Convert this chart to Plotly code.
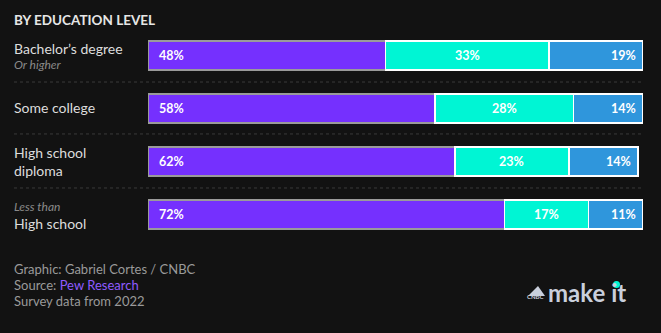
import plotly.graph_objects as go

categories = ["Bachelor’s degree", "Some college", "High school diploma", "Less than High school"]
purple_vals = [48, 58, 62, 72]
teal_vals = [33, 28, 23, 17]
blue_vals = [19, 14, 14, 11]

BG = "#121212"
PURPLE = "#7530FE"
TEAL = "#00F5D4"
BLUE = "#2F96DC"
FONT = "Lato"

W, H = 661, 333
L, R, T, B = 148, 18, 28, 91
PW, PH = W - L - R, H - T - B


def px2p(px):
    return (px - L) / PW


def py2p(py):
    return (T + PH - py) / PH


rows = list(range(len(categories)))
fig = go.Figure()
for vals, col, lc in [(purple_vals, PURPLE, "#9a9a9a"), (teal_vals, TEAL, "#ffffff"), (blue_vals, BLUE, "#ffffff")]:
    fig.add_trace(go.Bar(
        x=vals, y=rows, orientation="h", width=0.55,
        marker=dict(color=col, line=dict(color=lc, width=1.5)),
        hoverinfo="skip",
    ))

ann = []
for i in rows:
    p, t, b = purple_vals[i], teal_vals[i], blue_vals[i]
    ann.append(dict(x=0, y=i, xref="x", yref="y", text=f"<b>{p}%</b>", showarrow=False,
                    xanchor="left", xshift=9, font=dict(color="white", size=12.5, family=FONT)))
    ann.append(dict(x=p + t / 2, y=i, xref="x", yref="y", text=f"<b>{t}%</b>", showarrow=False,
                    xanchor="center", font=dict(color="white", size=12.5, family=FONT)))
    ann.append(dict(x=p + t + b, y=i, xref="x", yref="y", text=f"<b>{b}%</b>", showarrow=False,
                    xanchor="right", xshift=-5, font=dict(color="white", size=12.5, family=FONT)))

LX = 12
lab_font = dict(color="#dddddd", size=14, family=FONT)
sub_font = dict(color="#8a8a8a", size=12, family=FONT)
labels = [
    ("Bachelor’s degree", 48, lab_font),
    ("<i>Or higher</i>", 64, sub_font),
    ("Some college", 107, lab_font),
    ("High school", 152, lab_font),
    ("diploma", 170, lab_font),
    ("<i>Less than</i>", 206, sub_font),
    ("High school", 223, lab_font),
]
for txt, py, f in labels:
    ann.append(dict(x=px2p(LX), y=py2p(py), xref="paper", yref="paper", text=txt, showarrow=False,
                    xanchor="left", yanchor="middle", font=f))

ann.append(dict(x=px2p(LX), y=py2p(20), xref="paper", yref="paper", text="<b>BY EDUCATION LEVEL</b>",
                showarrow=False, xanchor="left", yanchor="middle",
                font=dict(color="#e6e6e6", size=13.5, family=FONT)))

foot = dict(color="#9a9a9a", size=13, family=FONT)
ann.append(dict(x=px2p(LX), y=py2p(269), xref="paper", yref="paper", text="Graphic: Gabriel Cortes / CNBC",
                showarrow=False, xanchor="left", yanchor="middle", font=foot))
ann.append(dict(x=px2p(LX), y=py2p(285), xref="paper", yref="paper",
                text="Source: <span style='color:#8F5BFF'>Pew Research</span>",
                showarrow=False, xanchor="left", yanchor="middle", font=foot))
ann.append(dict(x=px2p(LX), y=py2p(301), xref="paper", yref="paper", text="Survey data from 2022",
                showarrow=False, xanchor="left", yanchor="middle", font=foot))
ann.append(dict(x=px2p(546), y=py2p(292), xref="paper", yref="paper", text="<b>make it</b>",
                showarrow=False, xanchor="left", yanchor="middle",
                font=dict(color="#c9cfdc", size=24, family=FONT)))
ann.append(dict(x=px2p(546), y=py2p(296), xref="paper", yref="paper", text="<b>CNBC</b>",
                showarrow=False, xanchor="right", yanchor="middle",
                font=dict(color="#c9cfdc", size=6, family=FONT)))

shapes = []
for yv in [0.5, 1.48, 2.5]:
    shapes.append(dict(type="line", xref="paper", yref="y", x0=px2p(14), x1=1, y0=yv, y1=yv,
                       line=dict(color="#3a3a3a", width=1, dash="dot")))
# teal dot of the logo "i"
shapes.append(dict(type="circle", xref="paper", yref="paper",
                   x0=px2p(613), x1=px2p(620), y0=py2p(288), y1=py2p(281),
                   fillcolor=TEAL, line=dict(width=0)))
# peacock fan hint
shapes.append(dict(type="path", xref="paper", yref="paper",
                   path=f"M {px2p(528)},{py2p(296)} L {px2p(538)},{py2p(286)} L {px2p(545)},{py2p(296)} Z",
                   fillcolor="#c9cfdc", line=dict(width=0)))

fig.update_layout(
    width=W, height=H, barmode="stack", showlegend=False,
    paper_bgcolor=BG, plot_bgcolor=BG,
    margin=dict(l=L, r=R, t=T, b=B),
    xaxis=dict(range=[0, 100], visible=False, fixedrange=True),
    yaxis=dict(range=[3.52, -0.52], visible=False, fixedrange=True),
    annotations=ann, shapes=shapes,
    font=dict(family=FONT),
)
fig.write_html("out.html")
